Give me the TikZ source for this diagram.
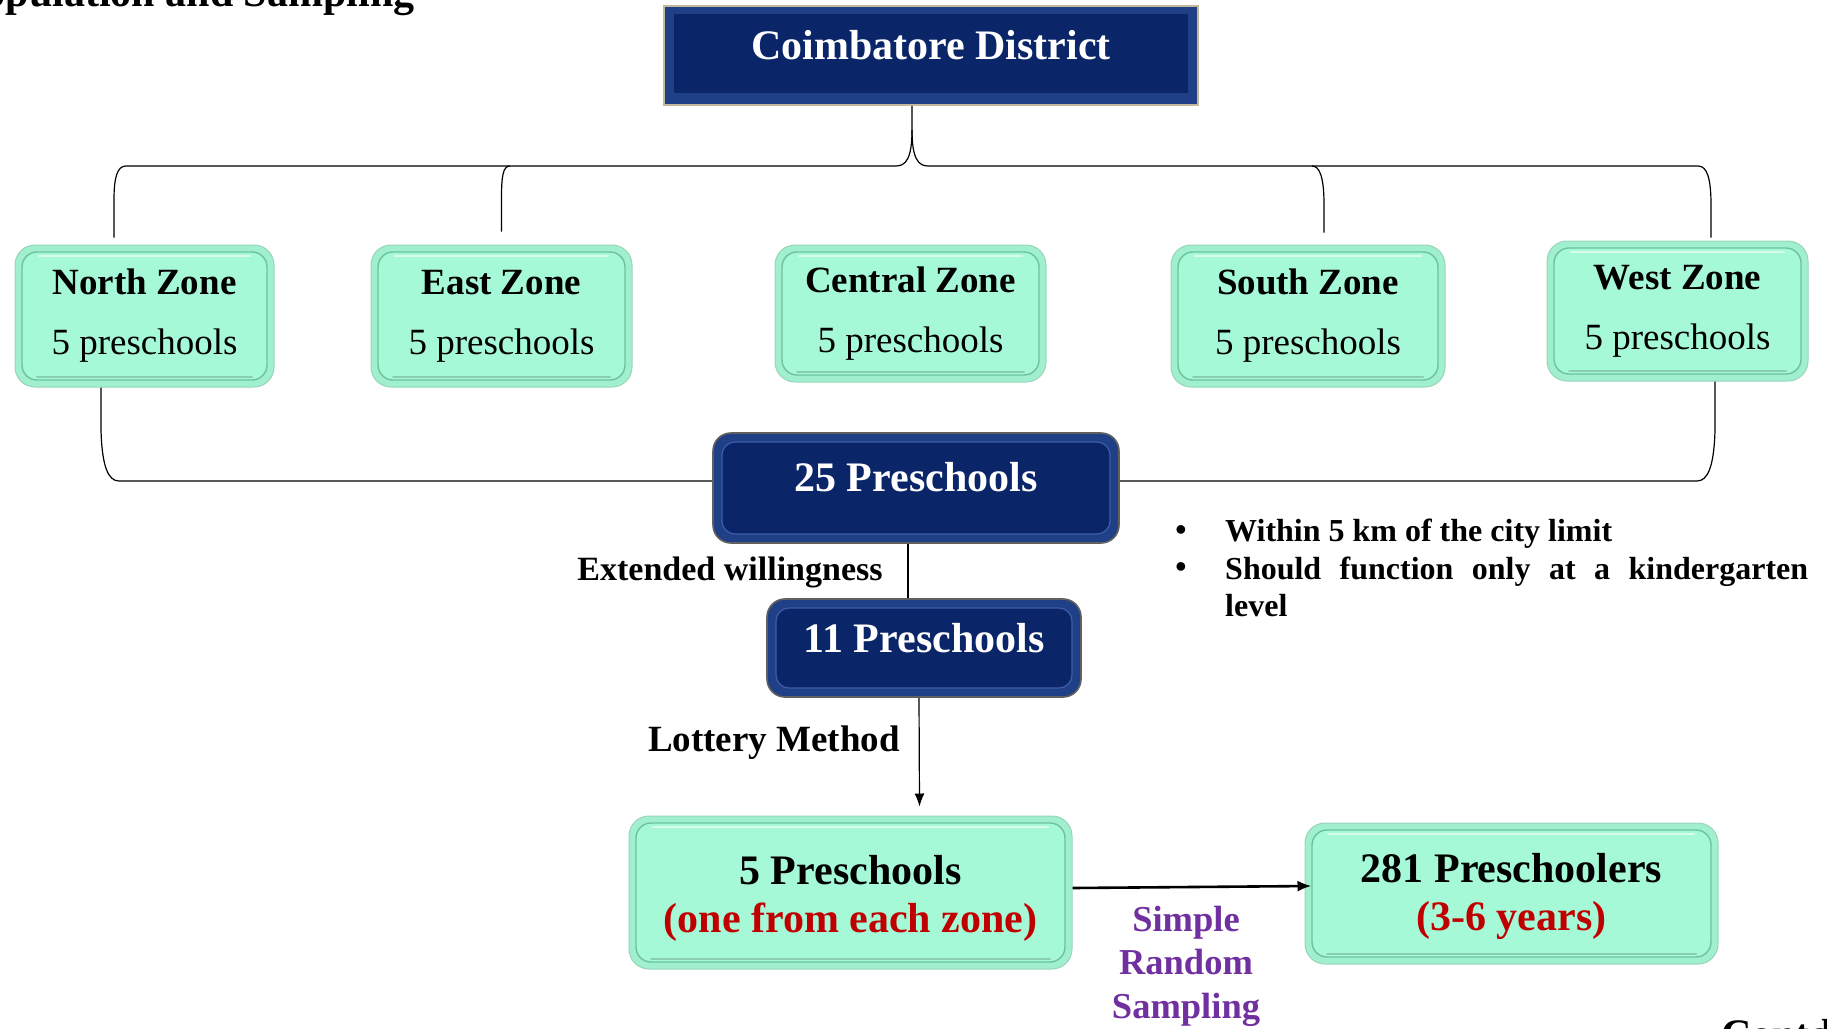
\documentclass[tikz,border=0pt]{standalone}
\usepackage{fontspec}
\setmainfont{Liberation Serif}
\usetikzlibrary{arrows.meta}

\definecolor{navy}{HTML}{0A2568}
\definecolor{navyrim}{HTML}{1F3F86}
\definecolor{navyhi}{HTML}{3D5FA8}
\definecolor{mint}{HTML}{A6F9D7}
\definecolor{mintrim}{HTML}{A0F0CF}
\definecolor{mintline}{HTML}{6DC29D}
\definecolor{redtxt}{HTML}{C00000}
\definecolor{purpletxt}{HTML}{7030A0}
\definecolor{tanline}{HTML}{C2B99C}

\tikzset{
  conn/.style={line width=1.2pt, black},
  bigfont/.style={font=\fontsize{42}{48}\selectfont\bfseries},
  zonefont/.style={font=\fontsize{37}{60}\selectfont},
  critfont/.style={font=\fontsize{32}{37.5}\selectfont\bfseries},
  % raised mint boxes with an inset rim
  mintbox/.style={rounded corners=20pt, fill=mintrim, draw=mintline!70, line width=1pt,
    inner sep=0pt, align=center,
    path picture={
      \draw[fill=mint, draw=mintline, line width=1.4pt, rounded corners=15pt]
        ([shift={(7pt,7pt)}]path picture bounding box.south west) rectangle
        ([shift={(-7pt,-7pt)}]path picture bounding box.north east);
      \draw[white!55!mint, line width=2.5pt, line cap=round]
        ([shift={(24pt,-11pt)}]path picture bounding box.north west) --
        ([shift={(-24pt,-11pt)}]path picture bounding box.north east);
      \draw[mintline!80, line width=2pt, line cap=round]
        ([shift={(22pt,10pt)}]path picture bounding box.south west) --
        ([shift={(-22pt,10pt)}]path picture bounding box.south east);
    }},
  % dark blue rounded boxes
  navybox/.style={rounded corners=18pt, fill=navyrim, draw=gray!75!black, line width=1.6pt,
    inner sep=0pt, text=white, bigfont,
    path picture={
      \draw[fill=navy, draw=navyhi, line width=1.2pt, rounded corners=13pt]
        ([shift={(9pt,9pt)}]path picture bounding box.south west) rectangle
        ([shift={(-9pt,-9pt)}]path picture bounding box.north east);
    }},
  % bevelled title box
  cdbox/.style={rectangle, fill=navyrim, draw=tanline, line width=1.6pt,
    inner sep=0pt, text=white, bigfont,
    path picture={
      \fill[navy]
        ([shift={(10pt,12pt)}]path picture bounding box.south west) rectangle
        ([shift={(-10pt,-8pt)}]path picture bounding box.north east);
    }},
}

\begin{document}
\begin{tikzpicture}[x=1pt, y=-1pt]
\useasboundingbox (0,0) rectangle (1827,1028);

% heading (partly outside the page)
\node[anchor=base west, inner sep=0pt, bigfont] (title) at (-41,6) {Population and Sampling};

% district
\node[cdbox, minimum width=534pt, minimum height=99pt, text height=40pt, text depth=33pt]
  (cd) at (931,55.5) {Coimbatore District};

% zones
\node[mintbox, zonefont, minimum width=259pt, minimum height=142pt] (north) at (144.5,316)
  {\textbf{North Zone}\\5 preschools};
\node[mintbox, zonefont, minimum width=261pt, minimum height=142pt] (east) at (501.5,316)
  {\textbf{East Zone}\\5 preschools};
\node[mintbox, zonefont, minimum width=271pt, minimum height=137pt] (central) at (910.5,313.5)
  {\textbf{Central Zone}\\5 preschools};
\node[mintbox, zonefont, minimum width=274pt, minimum height=142pt] (south) at (1308,316)
  {\textbf{South Zone}\\5 preschools};
\node[mintbox, zonefont, minimum width=261pt, minimum height=140pt] (west) at (1677.5,311)
  {\textbf{West Zone}\\5 preschools};

% pooled and selected schools
\node[navybox, minimum width=406pt, minimum height=110pt, text height=40pt, text depth=34pt]
  (p25) at (916,488) {25 Preschools};
\node[navybox, minimum width=314pt, minimum height=98pt, text height=42pt, text depth=34pt]
  (p11) at (924,648) {11 Preschools};
\node[mintbox, bigfont, minimum width=443pt, minimum height=153pt] (p5) at (850.5,892.5)
  {\rule{0pt}{41pt}5 Preschools\\\textcolor{redtxt}{(one from each zone)}};
\node[mintbox, bigfont, minimum width=413pt, minimum height=141pt] (p281) at (1511.5,893.5)
  {\rule{0pt}{35pt}281 Preschoolers\\\textcolor{redtxt}{(3-6 years)}};

% step labels
\node[font=\fontsize{34}{40}\selectfont\bfseries] (ew) at (730,572) {Extended willingness};
\node[font=\fontsize{37}{44}\selectfont\bfseries] (lm) at (774,743) {Lottery Method};
\node[font=\fontsize{36.5}{43.5}\selectfont\bfseries, text=purpletxt, align=center]
  (srs) at (1186,966) {Simple\\Random\\Sampling};

% selection criteria
\node[critfont] (b1) at (1181,533) {\textbullet};
\node[critfont] (b2) at (1181,570) {\textbullet};
\node[anchor=north west, inner sep=0pt, text width=583pt, align=justify, critfont]
  (crit) at (1225,519) {\tolerance=10000\relax Within 5 km of the city limit\par
  Should function only at a kindergarten\linebreak level};

\node[anchor=base west, inner sep=0pt, bigfont] (contd) at (1721,1048) {Contd.};

% upper brace: district to zones
\coordinate (tip) at ([xshift=-19pt]cd.south);
\coordinate (nt) at ([xshift=-30.5pt,yshift=7pt]north.north);
\coordinate (et) at ([yshift=13pt]east.north);
\coordinate (st) at ([xshift=16pt,yshift=12pt]south.north);
\coordinate (wt) at ([xshift=33.5pt,yshift=3pt]west.north);
\draw[conn] (tip) -- (912,130) .. controls (912,158) and (906,166) .. (896,166)
  -- (126,166) .. controls (117,166) and (114,178) .. (114,200) -- (nt);
\draw[conn] (912,130) .. controls (912,158) and (918,166) .. (928,166)
  -- (1698,166) .. controls (1707,166) and (1711,178) .. (1711,205) -- (wt);
\draw[conn] (510,166) .. controls (503,166) and (501.5,176) .. (501.5,198) -- (et);
\draw[conn] (1312,166) .. controls (1320,166) and (1324,178) .. (1324,205) -- (st);

% lower brace: zones pooled into 25 preschools
\coordinate (nb) at ([xshift=-43.5pt]north.south);
\coordinate (wb) at ([xshift=37.5pt]west.south);
\draw[conn] (nb) -- (101,430) .. controls (102,466) and (108,481) .. (119,481)
  -- ([yshift=7pt]p25.west);
\draw[conn] ([yshift=7pt]p25.east) -- (1697,481) .. controls (1708,481) and (1714,466) .. (1715,430)
  -- (wb);

% selection steps
\draw[conn] ([xshift=-8pt]p25.south) -- ([xshift=-16pt]p11.north);
\draw[conn, -{Latex[length=13pt,width=10pt]}] ([xshift=-5pt]p11.south) -- ([xshift=69pt,yshift=9pt]p5.north);
\draw[line width=2.6pt, -{Latex[length=14pt,width=11pt]}] ([yshift=4.5pt]p5.east) -- ([xshift=7pt,yshift=7.5pt]p281.west);
\end{tikzpicture}
\end{document}
